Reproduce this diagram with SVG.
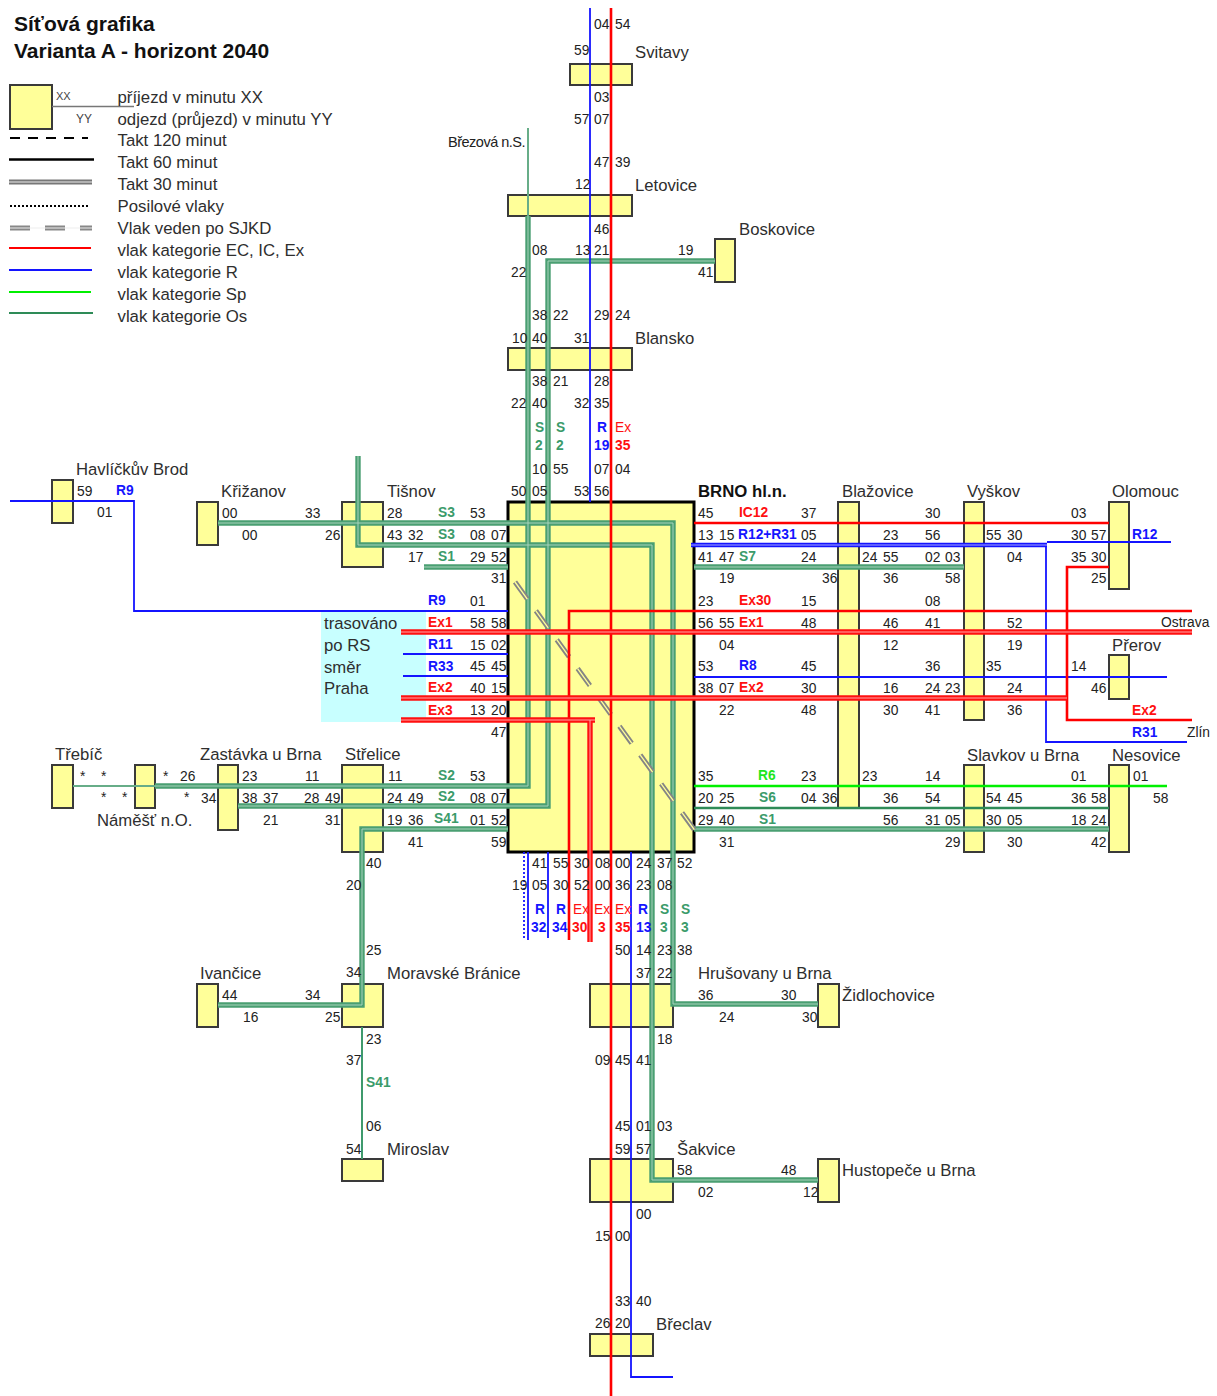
<svg xmlns="http://www.w3.org/2000/svg" xmlns:xlink="http://www.w3.org/1999/xlink" width="1217" height="1396" viewBox="0 0 1217 1396">
<style>
text{font-family:"Liberation Sans",Arial,sans-serif;fill:#222}
.t{font-size:13.8px}
.n{font-size:16.7px;fill:#2e2e2e}
.l{font-size:16.8px;fill:#2e2e2e}
.h{font-size:21px;font-weight:bold;fill:#111}
.bb{font-size:16.8px;font-weight:bold;fill:#111}
.r,.s,.o,.p,.e{font-size:13.8px;font-weight:bold}
.r{fill:#1414ff}.s{fill:#ff1010}.o{fill:#3b9b6a}.p{fill:#1ee61e}.e{fill:#ff1010;font-weight:normal}
rect.b{fill:#ffff99;stroke:#3a3a3a;stroke-width:2}
path,line{fill:none}
.gOut{stroke:#4a9f72;stroke-width:5.4}
.gIn{stroke:#a8d3bc;stroke-width:1}
.rOut{stroke:#ff1010;stroke-width:5.4}
.rIn{stroke:#ffa8a8;stroke-width:1}
.bOut{stroke:#1414ff;stroke-width:4.6}
.bIn{stroke:#a8a8ff;stroke-width:1}
.rs{stroke:#ff0000;stroke-width:2.6}
.bs{stroke:#1414ff;stroke-width:1.8}
.gs{stroke:#3f9a6c;stroke-width:2}
.dg{stroke:#2e8b57;stroke-width:2.6}
.ps{stroke:#00f000;stroke-width:2.6}
</style>
<defs>
<g id="osLines">
<path d="M528 216V786H155"/>
<path d="M715 261H548V806H238"/>
<path d="M218 523H673V1004H818"/>
<path d="M358 456V545H652V1180H818"/>
<path d="M424 567H508"/>
<path d="M694 567H964"/>
<path d="M694 829H1109"/>
<path d="M508 829H362V1005H218"/>
</g>
<g id="exLines">
<path d="M401 632H1192"/>
<path d="M401 698H1067"/>
<path d="M401 720H595M590 720V942"/>
</g>
</defs>
<rect id="cyan-area" x="321" y="612" width="105" height="110" fill="#c8ffff"/>
<g id="legend">
<text class="h" x="14" y="31">Síťová grafika</text>
<text class="h" x="14" y="58">Varianta A - horizont 2040</text>
<rect class="b" x="10" y="85" width="42" height="44"/>
<line x1="52" y1="106.500" x2="134" y2="106.500" stroke="#777" stroke-width="1.500"/>
<text x="56" y="100" font-size="11" style="fill:#444">XX</text>
<text x="76" y="123" font-size="12" style="fill:#444">YY</text>
<text class="l" x="117.500" y="103">příjezd v minutu XX</text>
<text class="l" x="117.500" y="125">odjezd (průjezd) v minutu YY</text>
<text class="l" x="117.500" y="146">Takt 120 minut</text>
<text class="l" x="117.500" y="168">Takt 60 minut</text>
<text class="l" x="117.500" y="190">Takt 30 minut</text>
<text class="l" x="117.500" y="212">Posilové vlaky</text>
<text class="l" x="117.500" y="234">Vlak veden po SJKD</text>
<text class="l" x="117.500" y="256">vlak kategorie EC, IC, Ex</text>
<text class="l" x="117.500" y="278">vlak kategorie R</text>
<text class="l" x="117.500" y="300">vlak kategorie Sp</text>
<text class="l" x="117.500" y="322">vlak kategorie Os</text>
<line x1="10" y1="138" x2="88" y2="138" stroke="#000" stroke-width="2" stroke-dasharray="10 8"/>
<line x1="9" y1="159.500" x2="94" y2="159.500" stroke="#000" stroke-width="2.500"/>
<line x1="9" y1="182" x2="92" y2="182" stroke="#777" stroke-width="5"/>
<line x1="9" y1="182" x2="92" y2="182" stroke="#eee" stroke-width="1.200"/>
<line x1="10" y1="206" x2="90" y2="206" stroke="#000" stroke-width="2" stroke-dasharray="2 2"/>
<line x1="10" y1="228" x2="92" y2="228" stroke="#888" stroke-width="5" stroke-dasharray="20 15"/>
<line x1="10" y1="228" x2="92" y2="228" stroke="#eee" stroke-width="1.200"/>
<line x1="9" y1="248" x2="91" y2="248" stroke="#ff0000" stroke-width="2"/>
<line x1="9" y1="270" x2="92" y2="270" stroke="#1414ff" stroke-width="1.800"/>
<line x1="9" y1="292" x2="91" y2="292" stroke="#00f000" stroke-width="2"/>
<line x1="9" y1="313" x2="93" y2="313" stroke="#2e8b57" stroke-width="2.200"/>
</g>
<g id="node-svitavy"><rect class="b" x="570" y="64" width="62" height="21"/><text class="n" x="635" y="58">Svitavy</text></g>
<g id="node-letovice"><rect class="b" x="508" y="195" width="124" height="21"/><text class="n" x="635" y="191">Letovice</text></g>
<g id="node-boskovice"><rect class="b" x="715" y="239" width="20" height="43"/><text class="n" x="739" y="235">Boskovice</text></g>
<g id="node-blansko"><rect class="b" x="508" y="348" width="124" height="22"/><text class="n" x="635" y="344">Blansko</text></g>
<g id="node-brno"><rect x="508" y="502" width="186" height="350" fill="#ffff99" stroke="#000" stroke-width="3"/><text class="bb" x="698" y="497">BRNO hl.n.</text></g>
<g id="node-havlickuv-brod"><rect class="b" x="52" y="480" width="21" height="43"/><text class="n" x="76" y="475">Havlíčkův Brod</text></g>
<g id="node-krizanov"><rect class="b" x="197" y="502" width="21" height="43"/><text class="n" x="221" y="497">Křižanov</text></g>
<g id="node-tisnov"><rect class="b" x="342" y="502" width="41" height="65"/><text class="n" x="387" y="497">Tišnov</text></g>
<g id="node-blazovice"><rect class="b" x="838" y="502" width="21" height="306"/><text class="n" x="842" y="497">Blažovice</text></g>
<g id="node-vyskov"><rect class="b" x="964" y="502" width="20" height="218"/><text class="n" x="967" y="497">Vyškov</text></g>
<g id="node-olomouc"><rect class="b" x="1109" y="502" width="20" height="87"/><text class="n" x="1112" y="497">Olomouc</text></g>
<g id="node-prerov"><rect class="b" x="1109" y="655" width="20" height="44"/><text class="n" x="1112" y="651">Přerov</text></g>
<g id="node-slavkov"><rect class="b" x="964" y="765" width="20" height="87"/><text class="n" x="967" y="761">Slavkov u Brna</text></g>
<g id="node-nesovice"><rect class="b" x="1109" y="765" width="20" height="87"/><text class="n" x="1112" y="761">Nesovice</text></g>
<g id="node-trebic"><rect class="b" x="52" y="765" width="21" height="43"/><text class="n" x="55" y="760">Třebíč</text></g>
<g id="node-namest"><rect class="b" x="135" y="765" width="20" height="43"/><text class="n" x="97" y="826">Náměšť n.O.</text></g>
<g id="node-zastavka"><rect class="b" x="218" y="765" width="20" height="65"/><text class="n" x="200" y="760">Zastávka u Brna</text></g>
<g id="node-strelice"><rect class="b" x="342" y="765" width="41" height="87"/><text class="n" x="345" y="760">Střelice</text></g>
<g id="node-ivancice"><rect class="b" x="197" y="984" width="21" height="43"/><text class="n" x="200" y="979">Ivančice</text></g>
<g id="node-moravske-branice"><rect class="b" x="342" y="984" width="41" height="43"/><text class="n" x="387" y="979">Moravské Bránice</text></g>
<g id="node-miroslav"><rect class="b" x="342" y="1159" width="41" height="22"/><text class="n" x="387" y="1155">Miroslav</text></g>
<g id="node-hrusovany"><rect class="b" x="590" y="984" width="83" height="43"/><text class="n" x="698" y="979">Hrušovany u Brna</text></g>
<g id="node-zidlochovice"><rect class="b" x="818" y="984" width="21" height="43"/><text class="n" x="842" y="1001">Židlochovice</text></g>
<g id="node-sakvice"><rect class="b" x="590" y="1159" width="83" height="43"/><text class="n" x="677" y="1155">Šakvice</text></g>
<g id="node-hustopece"><rect class="b" x="818" y="1159" width="21" height="43"/><text class="n" x="842" y="1176">Hustopeče u Brna</text></g>
<g id="node-breclav"><rect class="b" x="590" y="1334" width="63" height="22"/><text class="n" x="656" y="1330">Břeclav</text></g>
<g id="connectors">
<path d="M528 128V216" stroke="#67ad88" stroke-width="2"/>
<path d="M73 786H155" stroke="#67ad88" stroke-width="2"/>
<path class="gs" d="M362 1027V1159"/>
<path class="dg" d="M694 808H1109"/>
<g class="gOut"><use href="#osLines"/></g>
<g class="gIn"><use href="#osLines"/></g>
<line x1="515" y1="582" x2="696" y2="832" stroke="#858585" stroke-width="5" stroke-dasharray="21 14.600"/>
<line x1="515" y1="582" x2="696" y2="832" stroke="#ffff99" stroke-width="1.300" stroke-dasharray="21 14.600"/>
<path class="bs" d="M590 8V502"/>
<path class="bs" d="M10 501H134V611H508"/>
<path class="bs" d="M403 654H508M403 676H508"/>
<path class="bs" d="M694 677H1167"/>
<path class="bs" d="M1047 542H1171M1046 545V742H1187" stroke-width="1.500"/>
<path class="bOut" d="M691 545H1047"/>
<path class="bIn" d="M691 545H1047"/>
<path class="bs" d="M528 852V940M548 852V938"/>
<path class="bs" d="M524 852V940" stroke-dasharray="2 2" stroke-width="1.500"/>
<path class="bs" d="M631 852V1377H673"/>
<path class="ps" d="M694 786H1167"/>
<path class="rs" d="M611 8V1396"/>
<path class="rs" d="M694 523H1109"/>
<path class="rs" d="M569 940V611H1192"/>
<path class="rs" d="M1109 567H1067V720H1192"/>
<g class="rOut"><use href="#exLines"/></g>
<g class="rIn"><use href="#exLines"/></g>
</g>
<g id="times-north" class="t">
<text x="594" y="29">04</text><text x="615" y="29">54</text><text x="574" y="55">59</text><text x="594" y="102">03</text><text x="574" y="124">57</text><text x="594" y="124">07</text><text x="594" y="167">47</text><text x="615" y="167">39</text><text x="575" y="189">12</text><text x="594" y="234">46</text><text x="532" y="255">08</text><text x="575" y="255">13</text><text x="594" y="255">21</text><text x="678" y="255">19</text><text x="511" y="277">22</text><text x="698" y="277">41</text><text x="532" y="320">38</text><text x="553" y="320">22</text><text x="594" y="320">29</text><text x="615" y="320">24</text><text x="512" y="343">10</text><text x="532" y="343">40</text><text x="574" y="343">31</text><text x="532" y="386">38</text><text x="553" y="386">21</text><text x="594" y="386">28</text><text x="511" y="408">22</text><text x="532" y="408">40</text><text x="574" y="408">32</text><text x="594" y="408">35</text><text x="532" y="474">10</text><text x="553" y="474">55</text><text x="594" y="474">07</text><text x="615" y="474">04</text><text x="511" y="496">50</text><text x="532" y="496">05</text><text x="574" y="496">53</text><text x="594" y="496">56</text>
<text class="o" x="535" y="432">S</text><text class="o" x="556" y="432">S</text><text class="r" x="597" y="432">R</text><text class="e" x="615" y="432">Ex</text><text class="o" x="535" y="450">2</text><text class="o" x="556" y="450">2</text><text class="r" x="594" y="450">19</text><text class="s" x="615" y="450">35</text>
<text x="448" y="147" font-size="14.500" letter-spacing="-.5">Březová n.S.</text>
</g>
<g id="times-west" class="t">
<text x="77" y="496">59</text><text class="r" x="116" y="495">R9</text><text x="97" y="517">01</text><text x="222" y="518">00</text><text x="305" y="518">33</text><text x="242" y="540">00</text><text x="325" y="540">26</text>
<text x="387" y="518">28</text><text class="o" x="438" y="517">S3</text><text x="470" y="518">53</text><text x="387" y="540">43</text><text x="408" y="540">32</text><text class="o" x="438" y="539">S3</text><text x="470" y="540">08</text><text x="491" y="540">07</text><text x="408" y="562">17</text><text class="o" x="438" y="561">S1</text><text x="470" y="562">29</text><text x="491" y="562">52</text><text x="491" y="583">31</text>
<text class="r" x="428" y="605">R9</text><text x="470" y="606">01</text><text class="s" x="428" y="627">Ex1</text><text x="470" y="628">58</text><text x="491" y="628">58</text><text class="r" x="428" y="649">R11</text><text x="470" y="650">15</text><text x="491" y="650">02</text><text class="r" x="428" y="671">R33</text><text x="470" y="671">45</text><text x="491" y="671">45</text><text class="s" x="428" y="692">Ex2</text><text x="470" y="693">40</text><text x="491" y="693">15</text><text class="s" x="428" y="715">Ex3</text><text x="470" y="715">13</text><text x="491" y="715">20</text><text x="491" y="737">47</text>
<text x="80" y="781">*</text><text x="101" y="781">*</text><text x="163" y="781">*</text><text x="180" y="781">26</text><text x="242" y="781">23</text><text x="305" y="781">11</text><text x="388" y="781">11</text><text class="o" x="438" y="780">S2</text><text x="470" y="781">53</text>
<text x="101" y="802">*</text><text x="122" y="802">*</text><text x="184" y="802">*</text><text x="201" y="803">34</text><text x="242" y="803">38</text><text x="263" y="803">37</text><text x="304" y="803">28</text><text x="325" y="803">49</text><text x="387" y="803">24</text><text x="408" y="803">49</text><text class="o" x="438" y="801">S2</text><text x="470" y="803">08</text><text x="491" y="803">07</text>
<text x="263" y="825">21</text><text x="325" y="825">31</text><text x="387" y="825">19</text><text x="408" y="825">36</text><text class="o" x="434" y="823">S41</text><text x="470" y="825">01</text><text x="491" y="825">52</text><text x="408" y="847">41</text><text x="491" y="847">59</text>
<text x="366" y="868">40</text><text x="346" y="890">20</text><text x="366" y="955">25</text><text x="346" y="977">34</text><text x="222" y="1000">44</text><text x="305" y="1000">34</text><text x="243" y="1022">16</text><text x="325" y="1022">25</text><text x="366" y="1044">23</text><text x="346" y="1065">37</text><text class="o" x="366" y="1087">S41</text><text x="366" y="1131">06</text><text x="346" y="1154">54</text>
<g font-size="16.600"><text class="n" x="324" y="629">trasováno</text><text class="n" x="324" y="651">po RS</text><text class="n" x="324" y="673">směr</text><text class="n" x="324" y="694">Praha</text></g>
</g>
<g id="times-south" class="t">
<text x="532" y="868">41</text><text x="553" y="868">55</text><text x="574" y="868">30</text><text x="595" y="868">08</text><text x="615" y="868">00</text><text x="636" y="868">24</text><text x="657" y="868">37</text><text x="677" y="868">52</text>
<text x="512" y="890">19</text><text x="532" y="890">05</text><text x="553" y="890">30</text><text x="574" y="890">52</text><text x="595" y="890">00</text><text x="615" y="890">36</text><text x="636" y="890">23</text><text x="657" y="890">08</text>
<text class="r" x="535" y="914">R</text><text class="r" x="556" y="914">R</text><text class="e" x="573" y="914">Ex</text><text class="e" x="594" y="914">Ex</text><text class="e" x="615" y="914">Ex</text><text class="r" x="638" y="914">R</text><text class="o" x="660" y="914">S</text><text class="o" x="681" y="914">S</text>
<text class="r" x="531" y="932">32</text><text class="r" x="552" y="932">34</text><text class="s" x="572" y="932">30</text><text class="s" x="598" y="932">3</text><text class="s" x="615" y="932">35</text><text class="r" x="636" y="932">13</text><text class="o" x="660" y="932">3</text><text class="o" x="681" y="932">3</text>
<text x="615" y="955">50</text><text x="636" y="955">14</text><text x="657" y="955">23</text><text x="677" y="955">38</text><text x="636" y="978">37</text><text x="657" y="978">22</text>
<text x="698" y="1000">36</text><text x="781" y="1000">30</text><text x="719" y="1022">24</text><text x="802" y="1022">30</text><text x="657" y="1044">18</text><text x="595" y="1065">09</text><text x="615" y="1065">45</text><text x="636" y="1065">41</text><text x="615" y="1131">45</text><text x="636" y="1131">01</text><text x="657" y="1131">03</text><text x="615" y="1154">59</text><text x="636" y="1154">57</text><text x="677" y="1175">58</text><text x="781" y="1175">48</text><text x="698" y="1197">02</text><text x="803" y="1197">12</text><text x="636" y="1219">00</text><text x="595" y="1241">15</text><text x="615" y="1241">00</text><text x="615" y="1306">33</text><text x="636" y="1306">40</text><text x="595" y="1328">26</text><text x="615" y="1328">20</text>
</g>
<g id="times-east" class="t">
<text x="698" y="518">45</text><text class="s" x="739" y="517">IC12</text><text x="801" y="518">37</text><text x="925" y="518">30</text><text x="1071" y="518">03</text>
<text x="698" y="540">13</text><text x="719" y="540">15</text><text class="r" x="738" y="539">R12+R31</text><text x="801" y="540">05</text><text x="883" y="540">23</text><text x="925" y="540">56</text><text x="986" y="540">55</text><text x="1007" y="540">30</text><text x="1071" y="540">30</text><text x="1091" y="540">57</text><text class="r" x="1132" y="539">R12</text>
<text x="698" y="562">41</text><text x="719" y="562">47</text><text class="o" x="739" y="561">S7</text><text x="801" y="562">24</text><text x="862" y="562">24</text><text x="883" y="562">55</text><text x="925" y="562">02</text><text x="945" y="562">03</text><text x="1007" y="562">04</text><text x="1071" y="562">35</text><text x="1091" y="562">30</text>
<text x="719" y="583">19</text><text x="822" y="583">36</text><text x="883" y="583">36</text><text x="945" y="583">58</text><text x="1091" y="583">25</text>
<text x="698" y="606">23</text><text class="s" x="739" y="605">Ex30</text><text x="801" y="606">15</text><text x="925" y="606">08</text>
<text x="698" y="628">56</text><text x="719" y="628">55</text><text class="s" x="739" y="627">Ex1</text><text x="801" y="628">48</text><text x="883" y="628">46</text><text x="925" y="628">41</text><text x="1007" y="628">52</text><text x="1161" y="627">Ostrava</text>
<text x="719" y="650">04</text><text x="883" y="650">12</text><text x="1007" y="650">19</text>
<text x="698" y="671">53</text><text class="r" x="739" y="670">R8</text><text x="801" y="671">45</text><text x="925" y="671">36</text><text x="986" y="671">35</text><text x="1071" y="671">14</text>
<text x="698" y="693">38</text><text x="719" y="693">07</text><text class="s" x="739" y="692">Ex2</text><text x="801" y="693">30</text><text x="883" y="693">16</text><text x="925" y="693">24</text><text x="945" y="693">23</text><text x="1007" y="693">24</text><text x="1091" y="693">46</text>
<text x="719" y="715">22</text><text x="801" y="715">48</text><text x="883" y="715">30</text><text x="925" y="715">41</text><text x="1007" y="715">36</text><text class="s" x="1132" y="715">Ex2</text>
<text class="r" x="1132" y="737">R31</text><text x="1187" y="737">Zlín</text>
<text x="698" y="781">35</text><text class="p" x="758" y="780">R6</text><text x="801" y="781">23</text><text x="862" y="781">23</text><text x="925" y="781">14</text><text x="1071" y="781">01</text><text x="1133" y="781">01</text>
<text x="698" y="803">20</text><text x="719" y="803">25</text><text class="o" x="759" y="802">S6</text><text x="801" y="803">04</text><text x="822" y="803">36</text><text x="883" y="803">36</text><text x="925" y="803">54</text><text x="986" y="803">54</text><text x="1007" y="803">45</text><text x="1071" y="803">36</text><text x="1091" y="803">58</text><text x="1153" y="803">58</text>
<text x="698" y="825">29</text><text x="719" y="825">40</text><text class="o" x="759" y="824">S1</text><text x="883" y="825">56</text><text x="925" y="825">31</text><text x="945" y="825">05</text><text x="986" y="825">30</text><text x="1007" y="825">05</text><text x="1071" y="825">18</text><text x="1091" y="825">24</text>
<text x="719" y="847">31</text><text x="945" y="847">29</text><text x="1007" y="847">30</text><text x="1091" y="847">42</text>
</g>
</svg>
